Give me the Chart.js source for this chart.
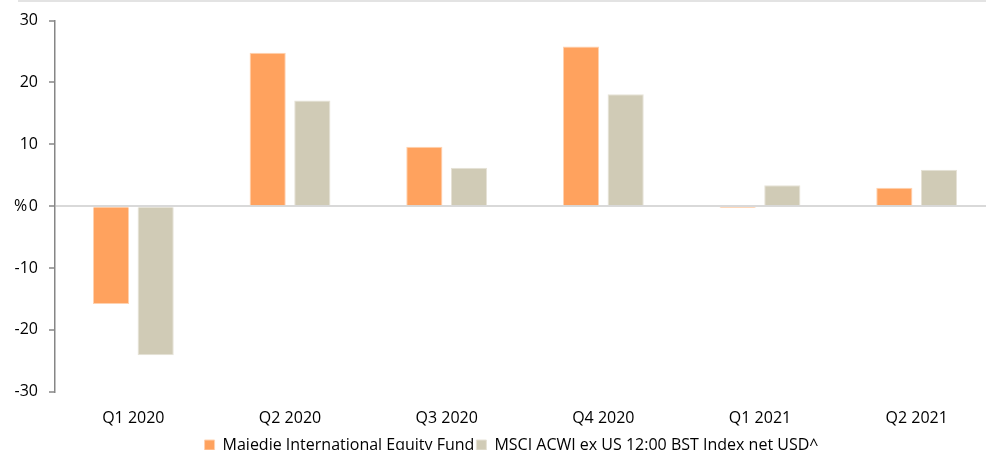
<!DOCTYPE html>
<html>
<head>
<meta charset="utf-8">
<script src="https://cdn.jsdelivr.net/npm/chart.js@4"></script>
<style>
  html, body { margin: 0; padding: 0; background: #fff; overflow: hidden; }
  #topline { position: absolute; left: 18px; top: 0; width: 1000px; height: 2px; background: #e3e3e3; }
  #wrap { position: absolute; left: 0; top: 0; width: 1000px; height: 463px; }
</style>
</head>
<body>
<div id="topline"></div>
<div id="wrap"><canvas id="c"></canvas></div>
<script>
const categories = ['Q1 2020', 'Q2 2020', 'Q3 2020', 'Q4 2020', 'Q1 2021', 'Q2 2021'];
const fundName = 'Majedie International Equity Fund';
const indexName = 'MSCI ACWI ex US 12:00 BST Index net USD^';
const fundValues = [-15.8, 24.8, 9.6, 25.8, -0.3, 3.0];
const indexValues = [-24.1, 17.1, 6.2, 18.1, 3.4, 5.9];
const yTicks = [-30, -20, -10, 0, 10, 20, 30];

const FONT = 'Open Sans';

const legendShift = {
  id: 'legendShift',
  afterLayout(chart) {
    const lg = chart.legend;
    if (lg) { lg.left += 14; lg.right += 14; }
  }
};

new Chart(document.getElementById('c'), {
  type: 'bar',
  data: {
    labels: categories,
    datasets: [
      { label: fundName, data: fundValues, backgroundColor: '#FFA25E', borderColor: '#FFD2B0', borderWidth: 1,
        barPercentage: 0.81, categoryPercentage: 0.57 },
      { label: indexName, data: indexValues, backgroundColor: '#D0CBB6', borderColor: '#E6E2D6', borderWidth: 1,
        barPercentage: 0.81, categoryPercentage: 0.57 }
    ]
  },
  plugins: [legendShift],
  options: {
    responsive: true,
    maintainAspectRatio: false,
    animation: false,
    layout: { padding: { left: 0, right: 5, top: 13, bottom: 0 } },
    plugins: {
      tooltip: { enabled: false },
      legend: {
        position: 'bottom',
        labels: {
          boxWidth: 10, boxHeight: 10, padding: 2,
          color: '#000',
          font: { family: FONT, size: 16 },
          useBorderRadius: false
        }
      }
    },
    scales: {
      x: {
        afterFit: (s) => { s.height -= 10; },
        grid: { display: false, drawTicks: false },
        border: { display: false },
        ticks: { color: '#000', font: { family: FONT, size: 16 }, padding: 17 }
      },
      y: {
        min: -30, max: 30,
        afterBuildTicks: (s) => { s.ticks = yTicks.map(v => ({ value: v })); },
        afterFit: (s) => { s.width = 55; },
        grid: {
          color: (ctx) => (ctx.tick && ctx.tick.value === 0 ? '#D9D9D9' : 'rgba(0,0,0,0)'),
          lineWidth: 2,
          drawTicks: true,
          tickLength: 6,
          tickColor: '#868686',
          tickWidth: 1.5
        },
        border: { display: true, color: '#868686', width: 1.5 },
        ticks: {
          color: '#000',
          font: { family: FONT, size: 16 },
          padding: 11,
          callback: (v) => (v === 0 ? '%\u200A0' : String(v))
        }
      }
    }
  }
});
</script>
</body>
</html>
